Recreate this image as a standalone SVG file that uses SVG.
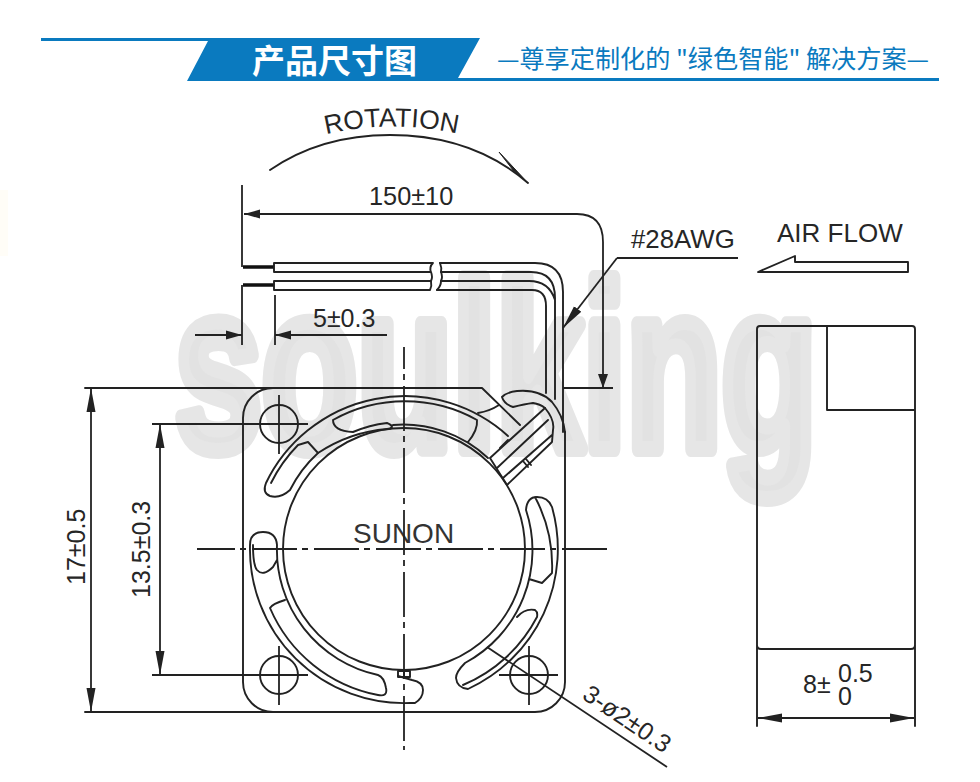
<svg xmlns="http://www.w3.org/2000/svg" width="980" height="782" viewBox="0 0 980 782">
<style>
.l{fill:none;stroke:#222;stroke-width:1.9;stroke-linecap:round;stroke-linejoin:round}
.d{fill:none;stroke:#222;stroke-width:1.8}
.c{fill:none;stroke:#222;stroke-width:1.8;stroke-dasharray:45 5 6 6}
.t{font-family:"Liberation Sans",Arial,sans-serif;font-size:25px;fill:#262626}
.cjk{font-family:"Noto Sans CJK SC",sans-serif}
</style>
<defs>
<marker id="ah" markerUnits="userSpaceOnUse" markerWidth="26" markerHeight="10" refX="24" refY="5" orient="auto-start-reverse"><path d="M0 0.5L24 5L0 9.5Z" fill="#222"/></marker>
<marker id="as" markerUnits="userSpaceOnUse" markerWidth="18" markerHeight="12" refX="16" refY="6" orient="auto-start-reverse"><path d="M0 1.5L16 6L0 10.5Z" fill="#222"/></marker>
</defs>
<rect width="980" height="782" fill="#fff"/>
<rect x="0" y="190" width="8" height="66" fill="#fffdf7"/>
<g id="watermark">
<text x="175" y="449" textLength="642" lengthAdjust="spacingAndGlyphs" font-family="Liberation Sans, sans-serif" font-weight="700" font-size="235" fill="#e2e2e2" stroke="#e6e6e6" stroke-width="16" stroke-linejoin="round">soulking</text>
</g>
<g id="header">
<path d="M41 38H480L458 78H939V81H187L208 41H41Z" fill="#0a7abf"/>
<text class="cjk" x="334.5" y="73" text-anchor="middle" font-size="33" font-weight="700" fill="#fff">产品尺寸图</text>
<text class="cjk" x="497" y="68" textLength="432" lengthAdjust="spacingAndGlyphs" font-size="24.5" fill="#0a7abf">—尊享定制化的 "绿色智能" 解决方案—</text>
</g>
<g id="rotation">
<path id="rp" d="M323 135Q392 118 464 135" fill="none"/>
<text class="t" style="font-size:26.4px"><textPath href="#rp" startOffset="3">ROTATION</textPath></text>
<path class="l" d="M270 170C305 146 345 135 390 135C445 135 490 150 528 183"/>
<path d="M499 152L528 183L513 170Z" fill="#222" stroke="#222" stroke-width="1"/>
</g>
<g id="airflow">
<text class="t" x="777" y="242" style="font-size:26px">AIR FLOW</text>
<path class="l" d="M758 272L795 256V262H908V272Z"/>
</g>
<g id="wires">
<path d="M243 267H274M243 285H274" fill="none" stroke="#111" stroke-width="3.4"/>
<path class="l" d="M274 263V272M274 281V290M274 263H433M274 272H431M274 281H431M274 290H430M433 263Q429 267 431 272Q433 277 431 281Q432 286 430 290"/>
<path class="l" d="M440 263Q442 268 441 272Q443 277 441 281Q441 286 437 290"/>
<path class="l" d="M440 263H535Q563 263 563 292V432M441 272H531Q555 272 555 298V399M441 281H529Q549 281 555 300M437 290H532Q546 290 546 306V393"/>
</g>
<g id="fan">
<path class="l" d="M85 388H482L520 425M273 388A30 30 0 0 0 243 418V682A30 30 0 0 0 273 712M85 712H535A30 30 0 0 0 565 682V432"/>
<path class="l" d="M502 397Q507 392 517 391Q540 389 552 402Q563 415 565 432M502 397Q504 404 513 407Q525 404 533 403Q540 404 545 408"/>
<circle class="l" cx="279" cy="424" r="19"/><circle class="l" cx="279" cy="675" r="19"/><circle class="l" cx="529" cy="675" r="19"/>
<circle class="l" cx="404" cy="549" r="121"/>
<path class="l" d="M266 483A154 154 0 0 1 508 436M271 483A148 148 0 0 1 298 445L308 442L318 453M266 483Q262 493 270 496Q280 499 290 490A128 128 0 0 1 318 453"/>
<path class="l" d="M333 420A148 148 0 0 1 477 420Q478 430 468 442M333 420Q333 431 353 432A127 127 0 0 1 387 423Q392 425 392 427Q391 429 387 429Q350 432 318 453M393 425A124 124 0 0 1 488 458"/>
<path class="l" d="M478 413Q490 411 499 405M500 448L508 440"/>
<path class="l" d="M490 458L545 408Q555 420 553 430L552 442L507 485ZM497 468L548 420M503 478L552 435M523 461L528 467M526 459L531 465"/>
<path class="l" d="M552 507A154 154 0 0 1 468 689Q457 688 456 678Q456 672 465 663A128 128 0 0 0 526 510Q527 497 537 497Q548 497 552 507M535 497A148 148 0 0 1 552 573L542 583L529 579M517 617Q525 608 535 610Q538 612 537 617A148 148 0 0 1 463 685"/>
<path class="l" d="M250 545Q250 532 263 532Q276 532 277 545A128 128 0 0 0 378 675Q384 677 386 688Q388 697 378 695A148 148 0 0 1 270 608Q272 604 285 600M250 545A154 154 0 0 0 410 703H415Q423 698 423 690Q423 682 412 680L398 676M253 545Q253 565 257 570Q263 577 273 567L277 560"/>
<path class="l" d="M398 671H410V677H398ZM404 671V677"/>
<text class="t" x="353" y="543" style="font-size:28px;fill:#333">SUNON</text>
</g>
<g id="side-view">
<path class="l" d="M757 726V329Q757 326 760 326H912Q915 326 915 329V726M827 326V410H915M757 645Q757 649 761 649H911Q915 649 915 645"/>
</g>
<g id="connectors">
<path class="d" d="M242 185V267" />
<path class="d" d="M242 285V345M275 295V345M563 388H613M617 258H738"/>
<path class="d" marker-start="url(#as)" d="M244 214H577Q603 214 603 242V388"/>
<path d="M603 388L598 374H608Z" fill="#222"/>
<path class="d" marker-end="url(#as)" d="M195 335H242"/>
<path class="d" marker-end="url(#as)" d="M387 335H275"/>
<path class="d" marker-start="url(#ah)" d="M563 328L617 258"/>
<path class="d" marker-start="url(#ah)" marker-end="url(#ah)" d="M91 388V712"/>
<path class="d" marker-start="url(#ah)" marker-end="url(#ah)" d="M160 424V675"/>
<path class="d" d="M152 424H308M152 675H308M499 675H558M279 395V454M279 646V705M529 646V705"/>
<path class="c" stroke-dashoffset="7" d="M197 549H611"/>
<path class="c" stroke-dashoffset="23" d="M404 347V750"/>
<path class="d" d="M487 647L667 767"/>
<path class="d" marker-start="url(#ah)" marker-end="url(#ah)" d="M758 718H914"/>
</g>
<g id="labels">
<text class="t" x="369" y="205" style="font-size:25.3px">150±10</text>
<text class="t" x="313" y="327">5±0.3</text>
<text class="t" x="631" y="248" style="font-size:25.8px">#28AWG</text>
<text class="t" transform="translate(85 585) rotate(-90)">17±0.5</text>
<text class="t" transform="translate(150 598) rotate(-90)">13.5±0.3</text>
<text class="t" transform="translate(581 698) rotate(34)">3-ø2±0.3</text>
<text class="t" x="803" y="693">8±</text>
<text class="t" x="838" y="682">0.5</text>
<text class="t" x="838" y="705">0</text>
</g>
</svg>
